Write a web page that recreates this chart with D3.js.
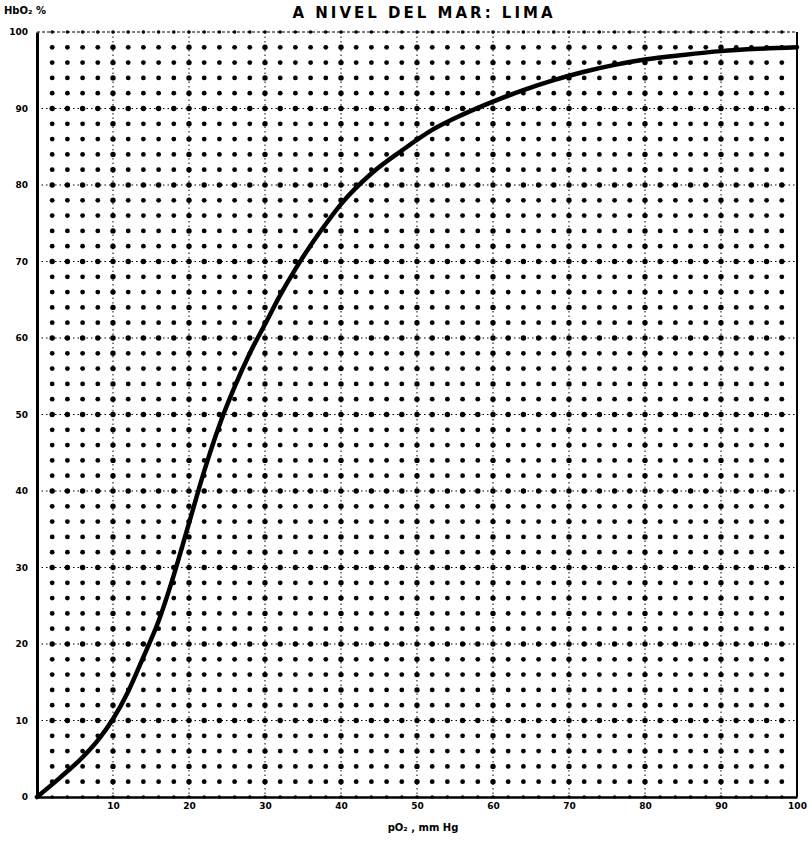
<!DOCTYPE html>
<html>
<head>
<meta charset="utf-8">
<script src="https://cdn.jsdelivr.net/npm/d3@7"></script>
<style>
  html, body { margin: 0; padding: 0; background: #fff; }
  svg { display: block; }
  text { font-family: "DejaVu Sans", Arial, sans-serif; fill: #000; }
</style>
</head>
<body>
<svg id="chart" width="808" height="841"></svg>
<script>
// ---- data ----
const titleText = "A NIVEL DEL MAR: LIMA";
const yAxisTitle = "HbO\u2082 %";
const xAxisTitle = "pO\u2082 , mm Hg";
const xTicks = [10, 20, 30, 40, 50, 60, 70, 80, 90, 100];
const yTicks = [0, 10, 20, 30, 40, 50, 60, 70, 80, 90, 100];
const pO2 =  [0, 3, 6, 8, 10, 12, 14, 16, 18, 20, 22, 24, 26, 28, 30, 32, 34, 36, 38, 40, 44, 48, 52, 56, 60, 64, 68, 72, 76, 80, 85, 90, 95, 100];
const hbo2 = [0, 2.5, 5.2, 7.4, 10.2, 13.8, 18.3, 23, 29, 35.8, 42.6, 48.6, 53.6, 58, 61.8, 65.6, 69, 72.1, 74.9, 77.5, 81.5, 84.5, 87.2, 89.2, 90.9, 92.4, 93.7, 94.8, 95.7, 96.4, 97, 97.5, 97.8, 98];

// ---- layout ----
const svg = d3.select("#chart");
const L = 37, R = 797, T = 32, B = 797;
const x = d3.scaleLinear().domain([0, 100]).range([L, R]);
const y = d3.scaleLinear().domain([0, 100]).range([B, T]);

// major dotted grid lines every 10
const g = svg.append("g");
g.selectAll("line.vx").data(d3.range(10, 100, 10)).join("line")
  .attr("x1", d => x(d)).attr("x2", d => x(d))
  .attr("y1", T).attr("y2", B)
  .attr("stroke", "#000").attr("stroke-width", 1)
  .attr("stroke-dasharray", "1.5,3");
g.selectAll("line.hy").data(d3.range(10, 100, 10)).join("line")
  .attr("y1", d => y(d)).attr("y2", d => y(d))
  .attr("x1", L).attr("x2", R)
  .attr("stroke", "#000").attr("stroke-width", 1)
  .attr("stroke-dasharray", "1.5,3");

// dot grid every 2 units
const dots = [];
for (let i = 2; i < 100; i += 2) for (let j = 2; j < 100; j += 2) dots.push([i, j]);
g.selectAll("circle.dot").data(dots).join("circle")
  .attr("cx", d => x(d[0])).attr("cy", d => y(d[1]))
  .attr("r", d => (d[0] % 10 === 0 || d[1] % 10 === 0) ? 2.7 : 2.4)
  .attr("fill", "#000");
// dots along edges
const edge = d3.range(2, 100, 2);
g.selectAll("circle.te").data(edge).join("circle")
  .attr("cx", d => x(d)).attr("cy", y(100)).attr("r", 1.8).attr("fill", "#000");
g.selectAll("circle.be").data(edge).join("circle")
  .attr("cx", d => x(d)).attr("cy", y(0)).attr("r", 1.8).attr("fill", "#000");

// frame
svg.append("line").attr("x1", L).attr("x2", R).attr("y1", T).attr("y2", T)
  .attr("stroke", "#000").attr("stroke-width", 1.2).attr("stroke-dasharray", "3,2");
svg.append("line").attr("x1", R).attr("x2", R).attr("y1", T).attr("y2", B)
  .attr("stroke", "#000").attr("stroke-width", 2);

// axes
const xAxis = d3.axisBottom(x).tickValues(xTicks).tickSize(0).tickPadding(6)
  .tickFormat(d3.format("d"));
const xg = svg.append("g").attr("transform", `translate(0,${B})`).call(xAxis);
xg.select(".domain").attr("stroke", "#000").attr("stroke-width", 2.5);
xg.selectAll("text").attr("font-size", 9).attr("font-weight", "bold");

const yAxis = d3.axisLeft(y).tickValues(yTicks).tickSize(0).tickPadding(9)
  .tickFormat(d3.format("d"));
const yg = svg.append("g").attr("transform", `translate(${L},0)`).call(yAxis);
yg.select(".domain").attr("stroke", "#000").attr("stroke-width", 3);
yg.selectAll("text").attr("font-size", 9).attr("font-weight", "bold");

// curve
const pts = pO2.map((p, i) => [p, hbo2[i]]);
svg.append("path").datum(pts)
  .attr("d", d3.line().x(d => x(d[0])).y(d => y(d[1])).curve(d3.curveMonotoneX))
  .attr("fill", "none").attr("stroke", "#000").attr("stroke-width", 4.5)
  .attr("stroke-linecap", "round").attr("stroke-linejoin", "round");

// titles
svg.append("text").attr("x", 424).attr("y", 18).attr("text-anchor", "middle")
  .attr("font-size", 15).attr("font-weight", "bold").attr("letter-spacing", 3)
  .text(titleText);
svg.append("text").attr("x", 4).attr("y", 14)
  .attr("font-size", 10).attr("font-weight", "bold")
  .text(yAxisTitle);
svg.append("text").attr("x", 423).attr("y", 831).attr("text-anchor", "middle")
  .attr("font-size", 10).attr("font-weight", "bold")
  .text(xAxisTitle);
</script>
</body>
</html>
